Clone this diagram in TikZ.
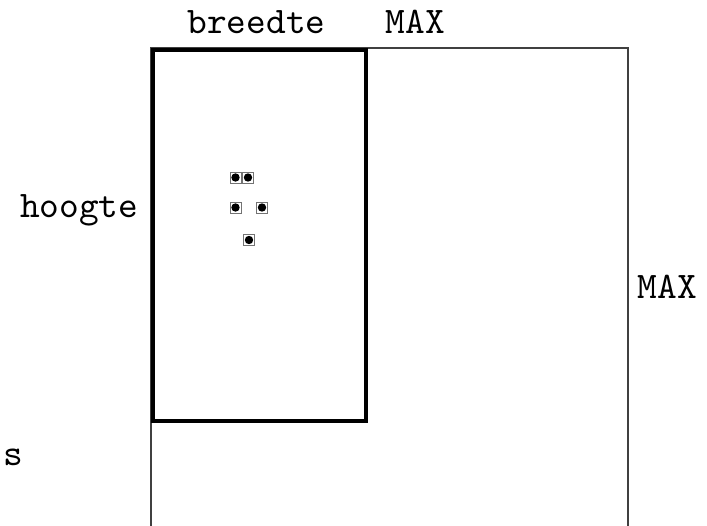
\documentclass[tikz,border=0pt]{standalone}
\begin{document}
\begin{tikzpicture}[x=1pt,y=-1pt,
  lbl/.style={font=\fontsize{10}{12}\selectfont\ttfamily, inner sep=0pt, scale=3.75, transform shape},
  thinline/.style={draw=black!75, line width=1.2pt},
  thickline/.style={draw=black, line width=3.5pt},
  pt/.style={draw=black!55, line width=1pt, minimum size=11pt, inner sep=0pt, fill=white,
    path picture={\fill[black] (path picture bounding box.center) circle (4.2pt);}}]
\useasboundingbox (0,0) rectangle (707,525);
% max region (open at bottom)
\coordinate (ml) at (151,530);
\coordinate (mtl) at (151,48);
\coordinate (mtr) at (628,48);
\coordinate (mr) at (628,530);
\draw[thinline] (ml) -- (mtl) -- (mtr) -- (mr);
% image rectangle
\node[thickline, minimum width=213pt, minimum height=371pt, anchor=north west, inner sep=0pt] (img) at (151,48) {};
% labels
\node[lbl, anchor=base] (br) at (256.5,33) {breedte};
\node[lbl, anchor=base] (mx1) at (415.5,33) {MAX};
\node[lbl, anchor=base east] (ho) at (139,217) {hoogte};
\node[lbl, anchor=base] (mx2) at (667.5,298) {MAX};
\node[lbl, anchor=base] (s) at (13.5,465) {s};
% points
\node[pt] (p1) at (235.5,177.5) {};
\node[pt] (p2) at (248,177.5) {};
\node[pt] (p3) at (235.5,207.5) {};
\node[pt] (p4) at (262,207.5) {};
\node[pt] (p5) at (249,240) {};
\end{tikzpicture}
\end{document}
